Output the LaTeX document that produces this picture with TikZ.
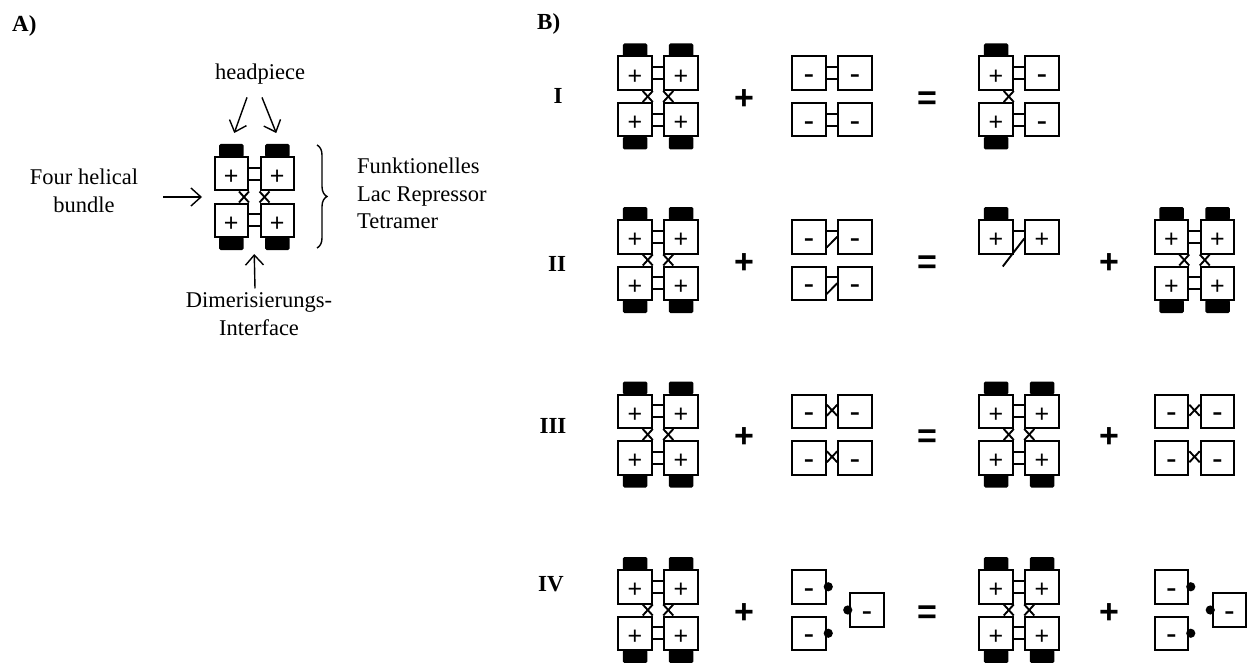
\documentclass[tikz,border=0pt]{standalone}
\usepackage{fontspec}
\setmainfont{Liberation Serif}
\setsansfont{Liberation Sans}
\usetikzlibrary{calc,arrows.meta,decorations.pathreplacing}
%% contacts between subunits
\newcommand{\Bond}[2]{
\draw[bond] ($(#1.north east)!.333!(#1.south east)$) -- ($(#2.north west)!.333!(#2.south west)$);
\draw[bond] ($(#1.north east)!.667!(#1.south east)$) -- ($(#2.north west)!.667!(#2.south west)$);}
\newcommand{\Broken}[2]{
\draw[bond] ($(#1.north east)!.333!(#1.south east)$) -- ($(#2.north west)!.333!(#2.south west)$);
\draw[bond] ($(#1.north east)!.8!(#1.south east)$) -- ($(#2.north west)!.5!(#2.south west)$);}
\newcommand{\XBond}[2]{
\draw[bond] ($(#1.east)+(0,-6.5)$) -- ($(#2.west)+(0,4.5)$);
\draw[bond] ($(#1.east)+(0,4.5)$) -- ($(#2.west)+(0,-6.5)$);}
\newcommand{\CrossL}[2]{
\draw[bond] ($(#1.south east)+(-10,0)$) -- (#2.north east);
\draw[bond] (#1.south east) -- ($(#2.north east)+(-10,0)$);}
\newcommand{\CrossR}[2]{
\draw[bond] ($(#1.south west)+(10,0)$) -- (#2.north west);
\draw[bond] (#1.south west) -- ($(#2.north west)+(10,0)$);}
%% headpieces
\newcommand{\HeadN}[1]{\fill[headblock] ($(#1.north)+(-12.25,-12)$) rectangle ($(#1.north)+(12.25,1)$);}
\newcommand{\HeadS}[1]{\fill[headblock] ($(#1.south)+(-12.25,-1)$) rectangle ($(#1.south)+(12.25,12)$);}
%% whole assemblies
\newcommand{\Tetramer}[2]{
\node[plusbox] (#1a) at ($(#2)+(-23,-23.25)$) {+};
\node[plusbox] (#1b) at ($(#2)+(23,-23.25)$) {+};
\node[plusbox] (#1c) at ($(#2)+(-23,23.25)$) {+};
\node[plusbox] (#1d) at ($(#2)+(23,23.25)$) {+};
\Bond{#1a}{#1b}\Bond{#1c}{#1d}
\CrossL{#1a}{#1c}\CrossR{#1b}{#1d}
\HeadN{#1a}\HeadN{#1b}\HeadS{#1c}\HeadS{#1d}}
\newcommand{\Dimers}[3]{
\node[minusbox] (#1a) at ($(#2)+(-23,-23.25)$) {-};
\node[minusbox] (#1b) at ($(#2)+(23,-23.25)$) {-};
\node[minusbox] (#1c) at ($(#2)+(-23,23.25)$) {-};
\node[minusbox] (#1d) at ($(#2)+(23,23.25)$) {-};
#3{#1a}{#1b}#3{#1c}{#1d}}
\newcommand{\Monomers}[2]{
\node[minusbox] (#1a) at ($(#2)+(-23,-23.25)$) {-};
\node[minusbox] (#1c) at ($(#2)+(-23,23.25)$) {-};
\node[minusbox] (#1e) at ($(#2)+(35,0)$) {-};
\fill ($(#1a.east)+(1.5,0)$) circle (4.6);
\fill ($(#1c.east)+(1.5,0)$) circle (4.6);
\fill ($(#1e.west)+(-1.5,0)$) circle (4.6);}

\begin{document}
\begin{tikzpicture}[x=1pt,y=-1pt]
	\tikzstyle{plusbox}=[draw,line width=2pt,fill=white,minimum size=33.5pt,inner sep=0pt,font=\sffamily\fontsize{25}{25}\selectfont,text height=22pt,text depth=0pt];
	\tikzstyle{minusbox}=[plusbox,font=\sffamily\fontsize{32}{32}\selectfont,text height=23.2pt];
	\tikzstyle{bond}=[line width=1.9pt];
	\tikzstyle{headblock}=[fill=black,rounded corners=1.5pt];
	\tikzstyle{sign}=[font=\sffamily\bfseries\fontsize{34}{34}\selectfont,inner sep=0pt,text height=23.8pt,text depth=0pt];
	\tikzstyle{txt}=[font=\fontsize{22.5}{27.5}\selectfont,inner sep=0pt];
	\tikzstyle{num}=[font=\bfseries\fontsize{23}{27.5}\selectfont,inner sep=0pt];
	\tikzstyle{pointer}=[line width=1.4pt,-{Straight Barb[length=10pt,width=18pt]}];
	\tikzstyle{brace}=[line width=1.4pt,decorate,decoration={brace,amplitude=10pt}];
	\useasboundingbox (0,0) rectangle (1252,663);
	%% A)
	\coordinate (A) at (254.25,197);
	\node[num,anchor=base west] (labA) at (12,32) {A)};
	\Tetramer{a}{A}
	\node[txt] (head) at (260,74) {headpiece};
	\node[txt,align=center] (fhb) at (84,191) {Four helical\\bundle};
	\node[txt,align=left,anchor=west] (flt) at (357,193.5) {Funktionelles\\Lac Repressor\\Tetramer};
	\node[txt,align=center] (dim) at (259,314) {Dimerisierungs-\\Interface};
	\draw[pointer] ($(head.south)+(-13,13)$) -- ($(aa.north)+(3,-23)$);
	\draw[pointer] ($(head.south)+(2,13)$) -- ($(ab.north)+(-1,-23)$);
	\draw[pointer] ($(fhb.east)+(25,6)$) -- ($(aa.west)!.5!(ac.west)+(-11.5,0)$);
	\draw[pointer] ($(dim.north)+(-4,-4)$) -- ($(ac.south east)!.5!(ad.south west)+(0,16)$);
	\draw[brace] ($(ab.north east)+(22,-11)$) -- ($(ad.south east)+(22,10)$);
	%% B)
	\node[num,anchor=base west] (labB) at (537,30) {B)};
	\coordinate (I1) at (658,96.5);   \coordinate (I2) at (832,96.5);   \coordinate (I3) at (1019,96.5);
	\coordinate (II1) at (658,260);   \coordinate (II2) at (832,260);   \coordinate (II3) at (1019,260);   \coordinate (II4) at (1194.5,260);
	\coordinate (III1) at (658,434.5); \coordinate (III2) at (832,434.5); \coordinate (III3) at (1019,434.5); \coordinate (III4) at (1194.5,434.5);
	\coordinate (IV1) at (658,610);   \coordinate (IV2) at (832,610);   \coordinate (IV3) at (1019,610);   \coordinate (IV4) at (1194.5,610);
	%% I
	\node[num] (rowI) at (558,96) {I};
	\Tetramer{ia}{I1}
	\node[sign] (iplus) at (744,98) {+};
	\Dimers{ib}{I2}{\Bond}
	\node[sign] (iequal) at (927,98) {=};
	\node[plusbox] (ica) at ($(I3)+(-23,-23.25)$) {+};
	\node[minusbox] (icb) at ($(I3)+(23,-23.25)$) {-};
	\node[plusbox] (icc) at ($(I3)+(-23,23.25)$) {+};
	\node[minusbox] (icd) at ($(I3)+(23,23.25)$) {-};
	\Bond{ica}{icb}\Bond{icc}{icd}
	\CrossL{ica}{icc}
	\HeadN{ica}\HeadS{icc}
	%% II
	\node[num] (rowII) at (557,264) {II};
	\Tetramer{iia}{II1}
	\node[sign] (iiplus) at (744,261.5) {+};
	\Dimers{iib}{II2}{\Broken}
	\node[sign] (iiequal) at (927,261.5) {=};
	\node[plusbox] (iica) at ($(II3)+(-23,-23.25)$) {+};
	\node[plusbox] (iicb) at ($(II3)+(23,-23.25)$) {+};
	\draw[bond] ($(iica.north east)!.333!(iica.south east)$) -- ($(iicb.north west)!.333!(iicb.south west)$);
	\draw[bond] ($(iicb.north west)!.55!(iicb.south west)$) -- ($(iica.south east)+(-11,12)$);
	\HeadN{iica}
	\node[sign] (iiplusb) at (1109,261.5) {+};
	\Tetramer{iid}{II4}
	%% III
	\node[num] (rowIII) at (553,426) {III};
	\Tetramer{iiia}{III1}
	\node[sign] (iiiplus) at (744,436) {+};
	\Dimers{iiib}{III2}{\XBond}
	\node[sign] (iiiequal) at (927,436) {=};
	\Tetramer{iiic}{III3}
	\node[sign] (iiiplusb) at (1109,436) {+};
	\Dimers{iiid}{III4}{\XBond}
	%% IV
	\node[num] (rowIV) at (551,584) {IV};
	\Tetramer{iva}{IV1}
	\node[sign] (ivplus) at (744,611.5) {+};
	\Monomers{ivb}{IV2}
	\node[sign] (ivequal) at (927,611.5) {=};
	\Tetramer{ivc}{IV3}
	\node[sign] (ivplusb) at (1109,611.5) {+};
	\Monomers{ivd}{IV4}
\end{tikzpicture}
\end{document}
